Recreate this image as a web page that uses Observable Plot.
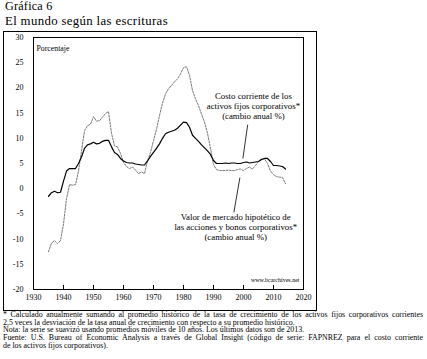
<!DOCTYPE html>
<html><head><meta charset="utf-8">
<script src="https://cdn.jsdelivr.net/npm/d3@7"></script>
<script src="https://cdn.jsdelivr.net/npm/@observablehq/plot@0.6"></script>
<style>
body{margin:0;background:#fff;font-family:"Liberation Serif","DejaVu Serif",serif;color:#000;}
#page{position:relative;width:427px;height:359px;overflow:hidden;}
.t{position:absolute;left:5px;white-space:nowrap;}
#frame{position:absolute;left:3px;top:31px;width:314px;height:280px;box-sizing:border-box;border:1px solid #000;}
#chart{position:absolute;left:4px;top:32px;}
#notes{position:absolute;left:3px;top:311px;width:420px;font-size:7.9px;line-height:7.7px;}
#notes div{white-space:nowrap;height:7.7px;}
#notes .j{text-align:justify;text-align-last:justify;}
</style></head>
<body><div id="page">
<div class="t" style="top:0px;font-size:12.2px;line-height:13.5px;letter-spacing:0.2px">Gráfica 6</div>
<div class="t" style="top:13.5px;font-size:12.8px;line-height:14px;letter-spacing:0.35px">El mundo según las escrituras</div>
<div id="frame"></div>
<div id="chart"></div>
<div id="notes"></div>
</div>
<script>
const years = [1935,1936,1937,1938,1939,1940,1941,1942,1943,1944,1945,1946,1947,1948,1949,1950,1951,1952,1953,1954,1955,1956,1957,1958,1959,1960,1961,1962,1963,1964,1965,1966,1967,1968,1969,1970,1971,1972,1973,1974,1975,1976,1977,1978,1979,1980,1981,1982,1983,1984,1985,1986,1987,1988,1989,1990,1991,1992,1993,1994,1995,1996,1997,1998,1999,2000,2001,2002,2003,2004,2005,2006,2007,2008,2009,2010,2011,2012,2013,2014];
const costoCorriente = [-1.5,-0.8,-0.5,-0.8,-0.7,1.5,3.5,4.0,4.0,4.0,5.0,6.3,8.0,8.7,8.9,9.2,8.9,9.0,9.4,9.6,9.6,8.3,7.2,6.8,6.0,5.5,5.2,5.1,5.1,4.9,4.8,4.7,4.7,5.5,6.4,7.2,8.0,8.9,10.0,10.9,11.2,11.4,11.6,12.0,12.6,13.2,13.1,12.2,10.6,10.0,9.4,8.7,8.1,7.5,6.8,5.6,5.0,5.0,5.0,5.1,5.0,5.1,5.1,5.0,5.0,5.2,5.3,5.1,5.2,5.3,5.4,5.8,6.0,6.0,5.4,4.6,4.6,4.5,4.4,3.9];
const valorMercado = [-12.5,-10.8,-10.3,-10.9,-10.3,-7.0,-2.0,0.8,0.7,0.8,3.5,7.5,11.5,12.5,12.8,14.3,13.4,13.5,14.2,14.9,15.3,11.0,8.5,8.3,7.0,5.2,4.4,4.0,4.3,3.7,3.0,3.3,3.0,5.5,7.2,9.5,11.8,14.5,17.0,18.8,19.8,20.5,21.2,21.8,22.8,24.0,24.2,22.5,19.5,17.8,16.5,14.8,13.2,11.0,8.0,4.8,3.8,3.6,3.6,3.6,3.7,3.6,3.6,3.8,3.9,3.6,4.0,4.3,3.9,4.6,5.4,5.9,5.9,5.0,3.5,2.8,2.4,2.3,2.2,1.0];
const xTicks = [1930,1940,1950,1960,1970,1980,1990,2000,2010,2020];
const yTicks = [30,25,20,15,10,5,0,-5,-10,-15,-20];
const labelCosto = ["Costo corriente de los","activos fijos corporativos*","(cambio anual %)"];
const labelMercado = ["Valor de mercado hipotético de","las acciones y bonos corporativos*","(cambio anual %)"];
const labelX = [2003.3, 1997.4];
const labelY = [16.5, -7.5];
const leaderX1 = [2001.4, 1996.8];
const leaderY1 = [12.7, -4.7];
const leaderX2 = [1999.8, 1998.8];
const leaderY2 = [6.0, 2.2];
const yLabel = "Porcentaje";
const sourceText = "www.bcarchives.net";
const notes = [
 "* Calculado anualmente sumando al promedio histórico de la tasa de crecimiento de los activos fijos corporativos corrientes",
 "2,5 veces la desviación de la tasa anual de crecimiento con respecto a su promedio histórico.",
 "Nota: la serie se suavizó usando promedios móviles de 10 años. Los últimos datos son de 2013.",
 "Fuente: U.S. Bureau of Economic Analysis a través de Global Insight (código de serie: FAPNREZ para el costo corriente",
 "de los activos fijos corporativos)."
];
const justified = [true,false,false,true,false];

const rows = years.map((y,i)=>({year:y, costo:costoCorriente[i], mercado:valorMercado[i]}));
const labels = [labelCosto.join("\n"), labelMercado.join("\n")].map((t,i)=>({t, x:labelX[i], y:labelY[i], x1:leaderX1[i], y1:leaderY1[i], x2:leaderX2[i], y2:leaderY2[i]}));

const chart = Plot.plot({
  width: 312, height: 278,
  marginLeft: 29, marginRight: 13, marginTop: 5, marginBottom: 21,
  style: {fontFamily: "'Liberation Serif', 'DejaVu Serif', serif", fontSize: "8px", background: "transparent", color: "#000"},
  x: {domain: [1930, 2020], label: null},
  y: {domain: [-20, 30], label: null},
  marks: [
    Plot.frame({stroke: "#000", strokeWidth: 1}),
    Plot.axisX({ticks: xTicks, tickSize: 0, tickPadding: 5, tickFormat: d => String(d), label: null}),
    Plot.axisY({ticks: yTicks, tickSize: 0, tickPadding: 10, tickFormat: d => String(d), label: null}),
    Plot.ruleX(xTicks, {x: d => d, y1: -20, y2: -19.2, stroke: "#000"}),
    Plot.line(rows, {x: "year", y: "mercado", stroke: "#7a7a7a", strokeWidth: 1, strokeDasharray: "2,1.3"}),
    Plot.line(rows, {x: "year", y: "costo", stroke: "#000", strokeWidth: 1.2}),
    Plot.link(labels, {x1: "x1", y1: "y1", x2: "x2", y2: "y2", stroke: "#000", strokeWidth: 0.8}),
    Plot.text(labels, {x: "x", y: "y", text: "t", fontSize: 8.8, lineHeight: 1.14, textAnchor: "middle"}),
    Plot.text([yLabel], {frameAnchor: "top-left", text: d => d, dx: 3, dy: 8, fontSize: 7.8, textAnchor: "start"}),
    Plot.text([sourceText], {frameAnchor: "bottom-right", text: d => d, dx: -4, dy: -8, fontSize: 6, textAnchor: "end"})
  ]
});
document.getElementById("chart").appendChild(chart);

const notesEl = document.getElementById("notes");
notes.forEach((n,i)=>{
  const d = document.createElement("div");
  d.textContent = n;
  if (justified[i]) d.className = "j";
  notesEl.appendChild(d);
});
</script>
</body></html>
